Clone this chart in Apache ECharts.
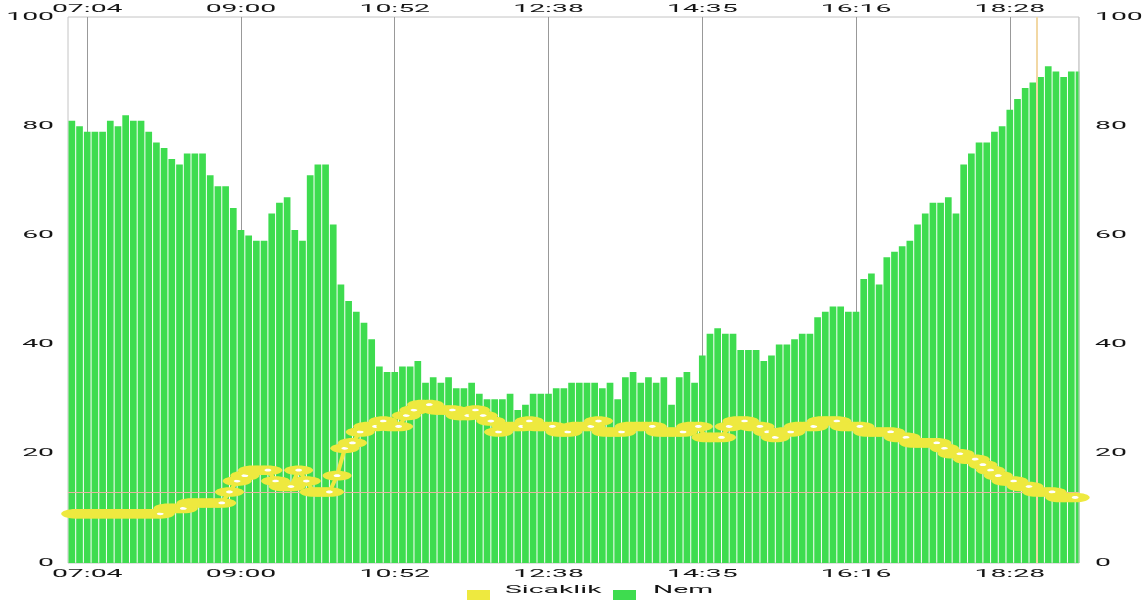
<!DOCTYPE html>
<html>
<head>
<meta charset="utf-8">
<script src="https://cdn.jsdelivr.net/npm/echarts@6/dist/echarts.min.js"></script>
<style>
html,body{margin:0;padding:0;background:#fff;}
#chart{width:1147px;height:600px;}
</style>
</head>
<body>
<div id="chart"></div>
<script>
// Humidity (Nem) – one bar per reading
const humidity = [
  81,80,79,79,79,81,80,82,81,81,79,77,76,74,73,75,75,75,71,69,
  69,65,61,60,59,59,64,66,67,61,59,71,73,73,62,51,48,46,44,41,
  36,35,35,36,36,37,33,34,33,34,32,32,33,31,30,30,30,31,28,29,
  31,31,31,32,32,33,33,33,33,32,33,30,34,35,33,34,33,34,29,34,
  35,33,38,42,43,42,42,39,39,39,37,38,40,40,41,42,42,45,46,47,
  47,46,46,52,53,51,56,57,58,59,62,64,66,66,67,64,73,75,77,77,
  79,80,83,85,87,88,89,91,90,89,90,90
];
// Temperature (Sicaklik) – readings sit between the humidity bars
const temperature = [
  9,9,9,9,9,9,9,9,9,9,9,9,10,10,10,11,11,11,11,11,
  13,15,16,17,17,17,15,14,14,17,15,13,13,13,16,21,22,24,25,25,
  26,25,25,27,28,29,29,28,28,28,27,27,28,27,26,24,25,25,25,26,
  25,25,25,24,24,25,25,25,26,24,24,24,25,25,25,25,24,24,24,24,
  25,25,23,23,23,25,26,26,25,25,24,23,24,24,25,25,25,26,26,26,
  25,25,25,24,24,24,24,23,23,22,22,22,22,21,20,20,19,19,18,17,
  16,15,15,14,14,13,13,13,12,12,12
];
// X tick labels and the reading index each one belongs to
const tickLabels = ['07:04','09:00','10:52','12:38','14:35','16:16','18:28'];
const tickIndex = [2,22,42,62,82,102,122];
// Y tick values (both sides)
const yTicks = [0, 20, 40, 60, 80, 100];
// Highlighted temperature reading
const highlightIndex = 125;

const YELLOW = '#eee93f';
const GREEN = '#3edc4f';
const X_MIN = -0.5, X_MAX = 131;
const TEXT_SCALE = 2.7;           // the reference's text is drawn horizontally stretched
const FONT = {fontFamily: 'Roboto', fontSize: 10.5, fill: '#151515'};

const barData = humidity.map((v, i) => [i, v]);
const tempData = temperature.map((v, j) => [j + 0.5, v]);

const chart = echarts.init(document.getElementById('chart'), null, {renderer: 'canvas'});
const hiddenAxis = {axisLine: {show: false}, axisTick: {show: false}, splitLine: {show: false}, axisLabel: {show: false}};
chart.setOption({
  animation: false,
  backgroundColor: '#ffffff',
  grid: {left: 68, right: 68, top: 17, bottom: 37, show: true, borderColor: '#c4c4c4', borderWidth: 1, backgroundColor: 'transparent'},
  legend: {
    top: 585, left: 462,
    itemWidth: 23, itemHeight: 10, itemGap: 123,
    icon: 'rect',
    formatter: () => '',
    data: ['Sicaklik', 'Nem']
  },
  xAxis: [
    Object.assign({type: 'value', min: X_MIN, max: X_MAX, position: 'bottom'}, hiddenAxis),
    Object.assign({type: 'value', min: X_MIN, max: X_MAX, position: 'top'}, hiddenAxis)
  ],
  yAxis: [
    Object.assign({type: 'value', min: 0, max: 100, interval: 20, position: 'left'}, hiddenAxis),
    Object.assign({type: 'value', min: 0, max: 100, interval: 20, position: 'right'}, hiddenAxis)
  ],
  series: [
    {
      name: 'Nem', type: 'bar', xAxisIndex: 0, yAxisIndex: 0,
      data: barData, barWidth: '87%', z: 2, clip: true,
      itemStyle: {color: GREEN},
      markLine: {
        silent: true, symbol: 'none', z: 1,
        label: {show: false},
        lineStyle: {color: '#999999', width: 1, type: 'solid'},
        data: tickIndex.map(i => ({xAxis: i}))
      }
    },
    {
      name: 'Sicaklik', type: 'line', xAxisIndex: 0, yAxisIndex: 0,
      data: tempData, symbol: 'none', z: 3.5,
      lineStyle: {color: YELLOW, width: 4},
      itemStyle: {color: YELLOW},
      markLine: {
        silent: true, symbol: 'none', z: 2.5,
        label: {show: false},
        data: [
          {xAxis: highlightIndex + 0.5, lineStyle: {color: '#f2d8a4', width: 2, type: 'solid'}},
          {yAxis: temperature[highlightIndex], lineStyle: {color: '#e4b6a0', width: 1, type: 'solid'}}
        ]
      }
    },
    {
      name: 'Sicaklik', type: 'custom', xAxisIndex: 0, yAxisIndex: 0,
      data: tempData, z: 4,
      itemStyle: {color: YELLOW},
      encode: {x: 0, y: 1},
      renderItem: function (params, api) {
        const p = api.coord([api.value(0), api.value(1)]);
        return {
          type: 'group',
          children: [
            {type: 'ellipse', shape: {cx: p[0], cy: p[1], rx: 14.5, ry: 4.8}, style: {fill: YELLOW}},
            {type: 'ellipse', shape: {cx: p[0], cy: p[1], rx: 3.4, ry: 1.4}, style: {fill: '#ffffff'}}
          ]
        };
      }
    }
  ]
});

// Positions come from the chart's own axes.
const xLeft = chart.convertToPixel({xAxisIndex: 0}, X_MIN);
const xRight = chart.convertToPixel({xAxisIndex: 0}, X_MAX);
const yTop = chart.convertToPixel({yAxisIndex: 0}, 100);
const yBottom = chart.convertToPixel({yAxisIndex: 0}, 0);

function stretchedText(text, x, y, align) {
  return {
    type: 'text', x: x, y: y, scaleX: TEXT_SCALE, z: 10, silent: true,
    style: Object.assign({text: text, align: align, verticalAlign: 'middle'}, FONT)
  };
}
const graphics = [
  // mask the half bar that ECharts draws past the right edge, redraw the border
  {type: 'rect', z: 3, silent: true,
   shape: {x: xRight + 0.5, y: yTop - 1, width: 8, height: yBottom - yTop + 2},
   style: {fill: '#ffffff'}},
  {type: 'line', z: 3, silent: true,
   shape: {x1: xRight, y1: yTop, x2: xRight, y2: yBottom},
   style: {stroke: '#c4c4c4', lineWidth: 1}}
];
tickIndex.forEach((idx, k) => {
  const px = chart.convertToPixel({xAxisIndex: 0}, idx);
  graphics.push(stretchedText(tickLabels[k], px, yTop - 8, 'center'));
  graphics.push(stretchedText(tickLabels[k], px, yBottom + 11, 'center'));
});
yTicks.forEach(v => {
  const py = chart.convertToPixel({yAxisIndex: 0}, v);
  graphics.push(stretchedText(String(v), xLeft - 14, py, 'right'));
  graphics.push(stretchedText(String(v), xRight + 16, py, 'left'));
});
// legend labels, placed right of the legend swatches
const legendNames = ['Sicaklik', 'Nem'];
const legendTextX = [505, 653];
legendNames.forEach((n, k) => graphics.push(stretchedText(n, legendTextX[k], 590, 'left')));
chart.setOption({graphic: graphics});
</script>
</body>
</html>
